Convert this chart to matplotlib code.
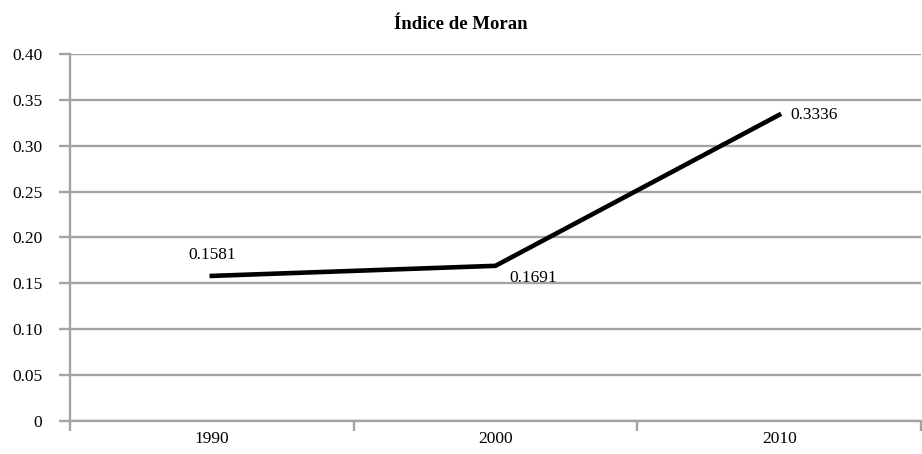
import matplotlib
matplotlib.use("Agg")
import matplotlib.pyplot as plt

plt.rcParams['font.family'] = ['Liberation Serif', 'DejaVu Serif']

# data
years = ["1990", "2000", "2010"]
moran = [0.1581, 0.1691, 0.3336]
y_ticks = [0, 0.05, 0.10, 0.15, 0.20, 0.25, 0.30, 0.35, 0.40]
y_tick_labels = ["0", "0.05", "0.10", "0.15", "0.20", "0.25", "0.30", "0.35", "0.40"]

grid_color = "#a3a3a3"

fig = plt.figure(figsize=(9.22, 4.54), dpi=100)
ax = fig.add_axes([0.0759, 0.0727, 0.923, 0.8085])

x = list(range(len(years)))
ax.plot(x, moran, color="black", linewidth=3.3, solid_joinstyle="miter")

# value labels
offsets = [(0, 9, "center", "bottom"), (10, -3, "left", "top"), (8, 0, "left", "center")]
for xi, v, (dx, dy, ha, va) in zip(x, moran, offsets):
    ax.annotate("%.4f" % v, (xi, v), xytext=(dx, dy), textcoords="offset points",
                ha=ha, va=va, fontsize=12.5)

ax.set_xlim(-0.5, 2.5)
ax.set_ylim(0, 0.40)
ax.set_yticks(y_ticks)
ax.set_yticklabels(y_tick_labels, fontsize=12.5)
ax.set_xticks(x)
ax.set_xticklabels(years, fontsize=12.5)
ax.set_xticks([-0.5, 0.5, 1.5, 2.5], minor=True)

ax.grid(axis="y", color=grid_color, linewidth=1.7)
ax.set_axisbelow(True)
ax.tick_params(axis="y", length=8, width=1.7, color=grid_color, pad=12)
ax.tick_params(axis="x", which="major", length=0, pad=7)
ax.tick_params(axis="x", which="minor", length=7, width=1.7, color=grid_color)

for s in ["top", "right"]:
    ax.spines[s].set_visible(False)
for s in ["left", "bottom"]:
    ax.spines[s].set_color(grid_color)
    ax.spines[s].set_linewidth(1.7)

fig.suptitle("Índice de Moran", fontsize=13.5, fontweight="bold", y=0.965)

fig.savefig("out.png", dpi=100)
